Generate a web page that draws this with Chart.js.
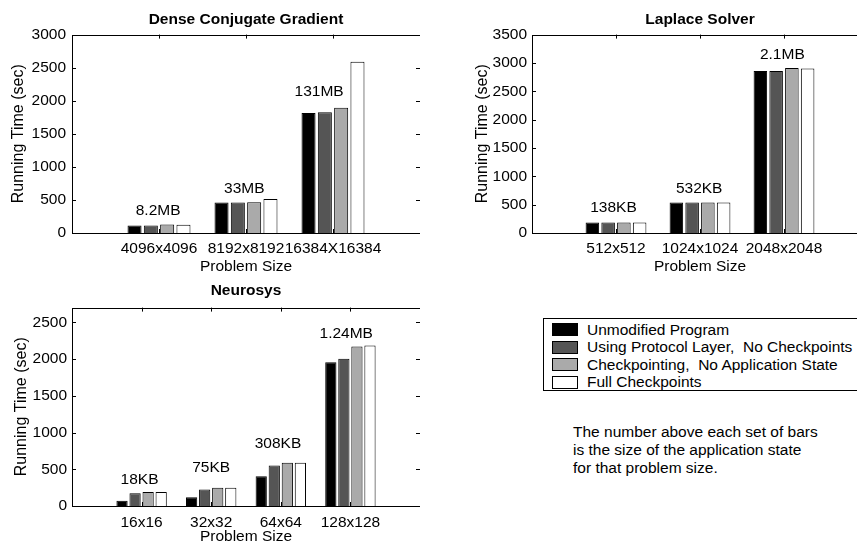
<!DOCTYPE html>
<html>
<head>
<meta charset="utf-8">
<script src="https://cdn.jsdelivr.net/npm/chart.js@4/dist/chart.umd.min.js"></script>
<style>
  html, body { margin: 0; padding: 0; background: #fff; overflow: hidden; }
  #page { position: relative; width: 857px; height: 544px; overflow: hidden; }
  canvas { position: absolute; }
  #legend {
    position: absolute; left: 543px; top: 318px; width: 340px; height: 73px;
    border: 1px solid #000; box-sizing: border-box; padding-top: 2px;
    font: 15.5px "Liberation Sans", Arial, Helvetica, sans-serif; color: #000;
  }
  #legend .row { height: 17.5px; display: flex; align-items: center; white-space: pre; }
  #legend .swatch { width: 26px; height: 13px; box-sizing: border-box; border: 1px solid #000; margin-left: 8px; margin-right: 9px; }
  #note {
    position: absolute; left: 573px; top: 423px; line-height: 16.5px;
    font: 15.5px "Liberation Sans", Arial, Helvetica, sans-serif; color: #000; white-space: nowrap;
  }
</style>
</head>
<body>
<div id="page">
  <canvas id="dcgChart" width="420" height="278" style="left:0px;top:0px"></canvas>
  <canvas id="laplaceChart" width="406" height="278" style="left:462px;top:0px"></canvas>
  <canvas id="neuroChart" width="420" height="278" style="left:0px;top:270px"></canvas>
  <div id="legend"></div>
  <div id="note">The number above each set of bars<br>is the size of the application state<br>for that problem size.</div>
</div>
<script>
// Series (same four for every panel)
const seriesNames = [
  'Unmodified Program',
  'Using Protocol Layer,  No Checkpoints',
  'Checkpointing,  No Application State',
  'Full Checkpoints'
];
const seriesColors = ['#000000', '#555555', '#aaaaaa', '#ffffff'];

// Dense Conjugate Gradient
const dcgSizes = ['4096x4096', '8192x8192', '16384X16384'];
const dcgUnmodified = [115, 460, 1815];
const dcgProtocol = [115, 460, 1825];
const dcgNoState = [130, 465, 1895];
const dcgFull = [125, 515, 2590];
const dcgStateText = ['8.2MB', '33MB', '131MB'];
const dcgStateX = [0.99, 1.98, 2.84];
const dcgStateY = [333, 672, 2133];
const dcgYTicks = [0, 500, 1000, 1500, 2000, 2500, 3000];
const dcgYMax = 3000;

// Laplace Solver
const lapSizes = ['512x512', '1024x1024', '2048x2048'];
const lapUnmodified = [185, 540, 2860];
const lapProtocol = [185, 540, 2860];
const lapNoState = [185, 540, 2910];
const lapFull = [185, 540, 2900];
const lapStateText = ['138KB', '532KB', '2.1MB'];
const lapStateX = [0.97, 1.99, 2.98];
const lapStateY = [448, 783, 3152];
const lapYTicks = [0, 500, 1000, 1500, 2000, 2500, 3000, 3500];
const lapYMax = 3500;

// Neurosys
const neuroSizes = ['16x16', '32x32', '64x64', '128x128'];
const neuroUnmodified = [70, 120, 405, 1955];
const neuroProtocol = [175, 225, 550, 2005];
const neuroNoState = [190, 248, 590, 2170];
const neuroFull = [190, 248, 588, 2185];
const neuroStateText = ['18KB', '75KB', '308KB', '1.24MB'];
const neuroStateX = [0.97, 2.0, 2.96, 3.94];
const neuroStateY = [363, 522, 848, 2342];
const neuroYTicks = [0, 500, 1000, 1500, 2000, 2500];
const neuroYMax = 2700;

Chart.defaults.font.family = '"Liberation Sans", Arial, Helvetica, sans-serif';
Chart.defaults.font.size = 15.5;
Chart.defaults.color = '#000';

// MATLAB-like box, inner tick marks and the state-size annotations
const framePlugin = {
  id: 'frame',
  beforeDatasetsDraw(chart) {
    const { ctx, chartArea: a, scales: { x, y } } = chart;
    ctx.save();
    ctx.strokeStyle = '#000';
    ctx.lineWidth = 1;
    ctx.beginPath();
    y.ticks.forEach(t => {
      const py = Math.round(y.getPixelForValue(t.value)) + 0.5;
      ctx.moveTo(a.left, py); ctx.lineTo(a.left + 4, py);
      ctx.moveTo(a.right, py); ctx.lineTo(a.right - 4, py);
    });
    x.ticks.forEach(t => {
      const px = Math.round(x.getPixelForValue(t.value)) + 0.5;
      ctx.moveTo(px, a.top); ctx.lineTo(px, a.top + 4);
      ctx.moveTo(px, a.bottom); ctx.lineTo(px, a.bottom - 4);
    });
    ctx.stroke();
    ctx.restore();
  },
  afterDraw(chart, args, opts) {
    const { ctx, chartArea: a, scales: { x, y } } = chart;
    ctx.save();
    ctx.strokeStyle = '#000';
    ctx.lineWidth = 1;
    ctx.strokeRect(Math.round(a.left) + 0.5, Math.round(a.top) + 0.5,
      Math.round(a.right - a.left), Math.round(a.bottom - a.top));
    ctx.fillStyle = '#000';
    ctx.font = '15.5px "Liberation Sans", Arial, Helvetica, sans-serif';
    ctx.textAlign = 'center';
    ctx.textBaseline = 'middle';
    opts.text.forEach((s, i) => {
      ctx.fillText(s, x.getPixelForValue(opts.xs[i]), y.getPixelForValue(opts.ys[i]));
    });
    ctx.restore();
  }
};

function makeChart(id, title, sizes, series, state, yTickValues, yMax, lay) {
  const ctx = document.getElementById(id).getContext('2d');
  return new Chart(ctx, {
    type: 'bar',
    data: {
      datasets: series.map((vals, k) => ({
        label: seriesNames[k],
        data: vals.map((v, i) => ({ x: i + 1, y: v })),
        backgroundColor: seriesColors[k],
        borderColor: '#000',
        borderWidth: 1,
        categoryPercentage: 0.75,
        barPercentage: 0.86
      }))
    },
    plugins: [framePlugin],
    options: {
      responsive: false,
      animation: false,
      devicePixelRatio: 1,
      layout: { padding: 0 },
      plugins: {
        legend: { display: false },
        tooltip: { enabled: false },
        title: {
          display: true,
          text: title,
          fullSize: false,
          font: { size: 15.5, weight: 'bold' },
          padding: { top: lay.titleTop, bottom: lay.titleBottom }
        },
        frame: state
      },
      scales: {
        x: {
          type: 'linear',
          offset: false,
          min: 0,
          max: sizes.length + 1,
          grid: { display: false, drawTicks: false, offset: false },
          border: { display: false },
          afterBuildTicks: s => { s.ticks = sizes.map((c, i) => ({ value: i + 1 })); },
          afterFit: s => { s.height = lay.xHeight; },
          ticks: {
            autoSkip: false,
            maxRotation: 0,
            padding: lay.xTickPad,
            callback: v => sizes[v - 1]
          },
          title: { display: true, text: 'Problem Size', padding: { top: 0, bottom: 2 } }
        },
        y: {
          min: 0,
          max: yMax,
          grid: { display: false, drawTicks: false },
          border: { display: false },
          afterBuildTicks: s => { s.ticks = yTickValues.map(v => ({ value: v })); },
          afterFit: s => { s.width = lay.yWidth; },
          ticks: { padding: lay.yTickPad, callback: v => String(v) },
          title: { display: true, text: 'Running Time (sec)', font: { size: 16 }, padding: { top: lay.yTitlePad, bottom: 0 } }
        }
      }
    }
  });
}

makeChart('dcgChart', 'Dense Conjugate Gradient', dcgSizes,
  [dcgUnmodified, dcgProtocol, dcgNoState, dcgFull],
  { text: dcgStateText, xs: dcgStateX, ys: dcgStateY }, dcgYTicks, dcgYMax,
  { titleTop: 10, titleBottom: 6, xHeight: 45, xTickPad: 6, yWidth: 72, yTickPad: 6, yTitlePad: 9 });

makeChart('laplaceChart', 'Laplace Solver', lapSizes,
  [lapUnmodified, lapProtocol, lapNoState, lapFull],
  { text: lapStateText, xs: lapStateX, ys: lapStateY }, lapYTicks, lapYMax,
  { titleTop: 10, titleBottom: 6, xHeight: 45, xTickPad: 6, yWidth: 70, yTickPad: 5, yTitlePad: 11 });

makeChart('neuroChart', 'Neurosys', neuroSizes,
  [neuroUnmodified, neuroProtocol, neuroNoState, neuroFull],
  { text: neuroStateText, xs: neuroStateX, ys: neuroStateY }, neuroYTicks, neuroYMax,
  { titleTop: 11, titleBottom: 8, xHeight: 42, xTickPad: 7, yWidth: 72, yTickPad: 5, yTitlePad: 12 });

// Legend box built from the series arrays
const legendEl = document.getElementById('legend');
seriesNames.forEach((name, k) => {
  const row = document.createElement('div');
  row.className = 'row';
  const sw = document.createElement('span');
  sw.className = 'swatch';
  sw.style.background = seriesColors[k];
  const label = document.createElement('span');
  label.textContent = name;
  row.appendChild(sw);
  row.appendChild(label);
  legendEl.appendChild(row);
});
</script>
</body>
</html>
